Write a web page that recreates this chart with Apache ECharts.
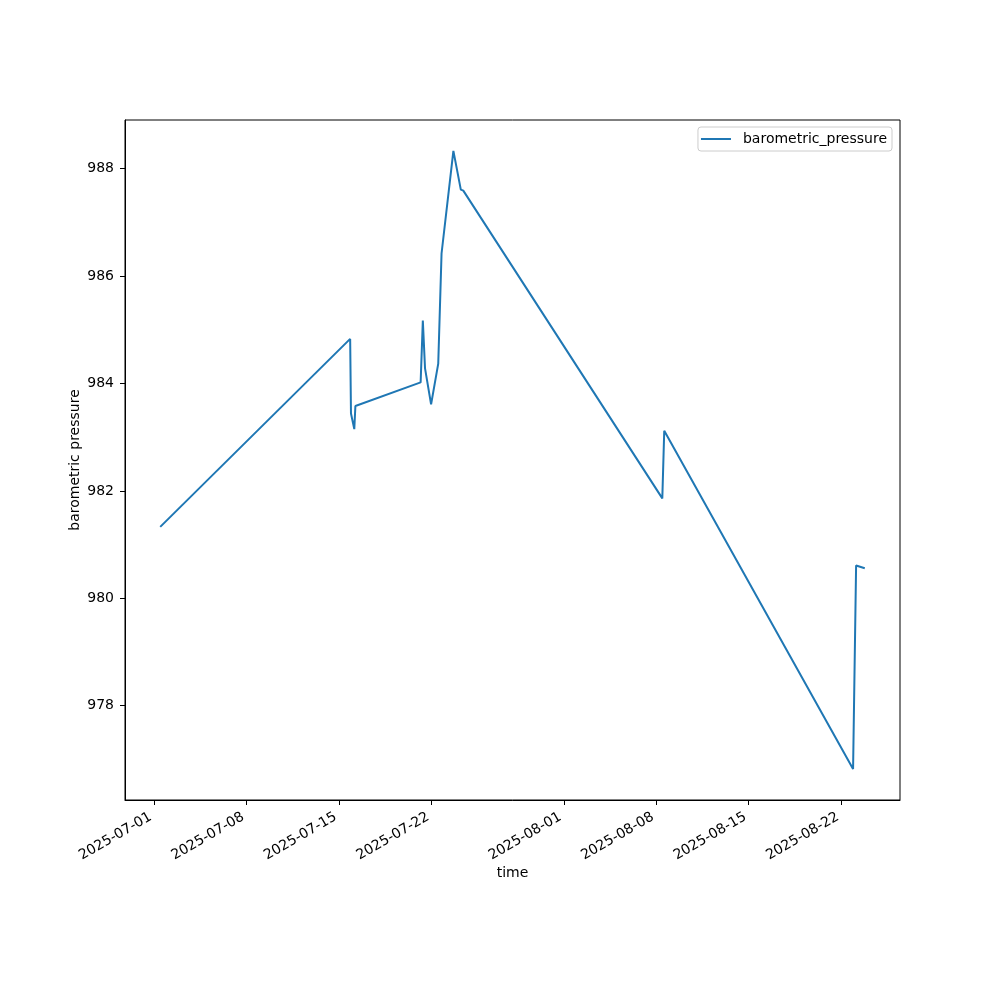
<!DOCTYPE html>
<html>
<head>
<meta charset="utf-8">
<script src="https://cdn.jsdelivr.net/npm/echarts@6/dist/echarts.min.js"></script>
<style>html,body{margin:0;padding:0;background:#fff}#c{width:1000px;height:1000px}</style>
</head>
<body>
<div id="c"></div>
<script>
// Data
const times = [
  "2025-07-01T11:00", "2025-07-15T20:00", "2025-07-15T21:30", "2025-07-16T03:30",
  "2025-07-16T05:30", "2025-07-21T04:00", "2025-07-21T08:00", "2025-07-21T12:00",
  "2025-07-21T23:00", "2025-07-22T12:00", "2025-07-22T18:00", "2025-07-23T15:30",
  "2025-07-24T05:00", "2025-07-24T09:30", "2025-08-08T11:00", "2025-08-08T14:30",
  "2025-08-22T21:30", "2025-08-23T03:00", "2025-08-23T18:45"
];
const pressure = [
  981.33, 984.83, 983.44, 983.15,
  983.58, 984.02, 985.17, 984.28,
  983.61, 984.37, 986.42, 988.33,
  987.61, 987.59, 981.86, 983.12,
  976.82, 980.61, 980.56
];
const xTickDates = ["2025-07-01", "2025-07-08", "2025-07-15", "2025-07-22", "2025-08-01", "2025-08-08", "2025-08-15", "2025-08-22"];
const yTicks = [978, 980, 982, 984, 986, 988];
const seriesName = "barometric_pressure";

function ts(s) { return Date.parse(s + (s.length === 10 ? "T00:00:00Z" : ":00Z")); }
const xs = times.map(ts);
const xMinData = Math.min(...xs), xMaxData = Math.max(...xs);
const xPad = (xMaxData - xMinData) * 0.05;
const yMinData = Math.min(...pressure), yMaxData = Math.max(...pressure);
const yPad = (yMaxData - yMinData) * 0.05;
const xTickVals = xTickDates.map(ts);
function fmt(v) {
  const d = new Date(v);
  const p = n => String(n).padStart(2, "0");
  return d.getUTCFullYear() + "-" + p(d.getUTCMonth() + 1) + "-" + p(d.getUTCDate());
}

const font = "DejaVu Sans";
const fs = 14;
const chart = echarts.init(document.getElementById("c"), null, { renderer: "canvas" });
chart.setOption({
  animation: false,
  backgroundColor: "#fff",
  textStyle: { fontFamily: font },
  grid: { left: 125, right: 100, top: 120, bottom: 200, show: true, borderColor: "#000", borderWidth: 1, backgroundColor: "transparent" },
  legend: {
    data: [seriesName],
    right: 108, top: 127,
    orient: "vertical",
    icon: "rect", itemWidth: 30, itemHeight: 2, itemGap: 10,
    textStyle: { fontFamily: font, fontSize: fs, color: "#000", padding: [0, 0, 0, 7] },
    borderColor: "#cccccc", borderWidth: 1, borderRadius: 3,
    padding: [5, 5, 5, 3],
    backgroundColor: "#fff"
  },
  xAxis: {
    type: "value",
    min: xMinData - xPad, max: xMaxData + xPad,
    name: "time", nameLocation: "middle", nameGap: 66, nameMoveOverlap: false,
    nameTextStyle: { fontFamily: font, fontSize: fs, color: "#000" },
    axisLine: { show: true, onZero: false, lineStyle: { color: "#000", width: 1 } },
    axisTick: { show: true, inside: false, length: 5, customValues: xTickVals, lineStyle: { color: "#000" } },
    axisLabel: { customValues: xTickVals, formatter: fmt, rotate: 30, margin: 14, padding: [0, 4, 0, 0], fontFamily: font, fontSize: fs, color: "#000" },
    splitLine: { show: false }
  },
  yAxis: {
    type: "value",
    min: yMinData - yPad, max: yMaxData + yPad,
    name: "barometric pressure", nameLocation: "middle", nameGap: 43, nameMoveOverlap: false,
    nameTextStyle: { fontFamily: font, fontSize: fs, color: "#000" },
    axisLine: { show: true, onZero: false, lineStyle: { color: "#000", width: 1 } },
    axisTick: { show: true, inside: false, length: 5, customValues: yTicks, lineStyle: { color: "#000" } },
    axisLabel: { customValues: yTicks, margin: 11, fontFamily: font, fontSize: fs, color: "#000" },
    splitLine: { show: false }
  },
  series: [{
    name: seriesName,
    type: "line",
    data: xs.map((x, i) => [x, pressure[i]]),
    showSymbol: false,
    symbol: "none",
    lineStyle: { color: "#1f77b4", width: 2 },
    itemStyle: { color: "#1f77b4" }
  }]
});
</script>
</body>
</html>
